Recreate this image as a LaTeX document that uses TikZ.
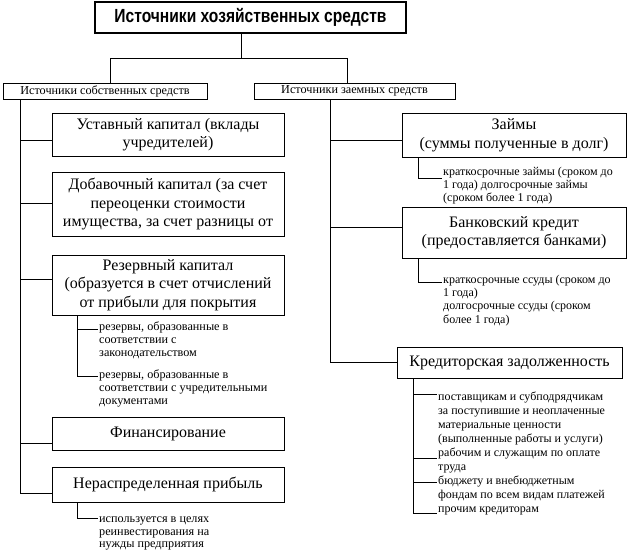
\documentclass[tikz,border=0pt]{standalone}
\usepackage{fontspec}
\setmainfont{Liberation Serif}
\newfontfamily\titlefont{Liberation Sans}
\begin{document}
\begin{tikzpicture}[x=1pt,y=-1pt,
  conn/.style={line width=1pt},
  titlebox/.style={draw, line width=1.3pt, inner sep=0pt, align=center, font=\titlefont\bfseries\fontsize{19}{22}\selectfont},
  lvl/.style={draw, line width=1pt, inner sep=0pt, align=center, font=\fontsize{12.2}{15}\selectfont},
  box/.style={draw, line width=1pt, inner sep=0pt, align=center, font=\fontsize{16}{18.5}\selectfont},
  smallL/.style={anchor=north west, inner sep=0pt, align=left, font=\fontsize{12.2}{12.7}\selectfont},
  smallZ/.style={anchor=north west, inner sep=0pt, align=left, font=\fontsize{12}{13.2}\selectfont},
  smallK/.style={anchor=north west, inner sep=0pt, align=left, font=\fontsize{12}{14}\selectfont}]
\useasboundingbox (0,0) rectangle (631,558);
% top
\node[titlebox, minimum width=311, minimum height=31] (title) at (250.5,17.5) {\scalebox{0.82}[1]{Источники хозяйственных средств}};
\node[lvl, minimum width=204, minimum height=16] (own) at (105,91) {Источники собственных средств};
\node[lvl, minimum width=201, minimum height=16] (brw) at (354.5,91) {Источники заемных средств};
\coordinate (tj) at (241,58);
\coordinate (tl) at (110,58);
\coordinate (tr) at (347,58);
\draw[conn] (title.south -| tj) -- (tj);
\draw[conn] (own.north -| tl) -- (tl) -- (tr) -- (brw.north -| tr);
% left boxes
\node[box, minimum width=232, minimum height=43] (ust) at (168,134.5) {Уставный капитал (вклады\\учредителей)};
\node[box, minimum width=232, minimum height=64] (dob) at (168,204) {Добавочный капитал (за счет\\переоценки стоимости\\имущества, за счет разницы от};
\node[box, minimum width=232, minimum height=60] (rez) at (168,285) {Резервный капитал\\(образуется в счет отчислений\\от прибыли для покрытия};
\node[box, minimum width=232, minimum height=33] (fin) at (168,433.5) {Финансирование};
\node[box, minimum width=232, minimum height=35] (ner) at (168,484.5) {Нераспределенная прибыль};
% left spine
\coordinate (l1) at (20.7,140);
\coordinate (l2) at (20.7,203);
\coordinate (l3) at (20.7,279);
\coordinate (l4) at (20.7,443);
\coordinate (l5) at (20.7,493);
\draw[conn] (own.south -| l5) -- (l5) -- (l5 -| ner.west);
\draw[conn] (l1) -- (l1 -| ust.west);
\draw[conn] (l2) -- (l2 -| dob.west);
\draw[conn] (l3) -- (l3 -| rez.west);
\draw[conn] (l4) -- (l4 -| fin.west);
% rez sub
\coordinate (rs1) at (77,329);
\coordinate (rs2) at (77,376);
\coordinate (re1) at (98,329);
\coordinate (re2) at (98,376);
\draw[conn] (rez.south -| rs1) -- (rs2) -- (re2);
\draw[conn] (rs1) -- (re1);
\node[smallL] (r1) at (99,322) {резервы, образованные в\\соответствии с\\законодательством};
\node[smallL] (r2) at (99,370) {резервы, образованные в\\соответствии с учредительными\\документами};
% ner sub
\coordinate (ns) at (77,518);
\coordinate (ne) at (98,518);
\draw[conn] (ner.south -| ns) -- (ns) -- (ne);
\node[smallL] (n1) at (99,516.5) {используется в целях\\реинвестирования на\\нужды предприятия};
% right boxes
\node[box, minimum width=224, minimum height=44] (zaim) at (514,135) {Займы\\(суммы полученные в долг)};
\node[box, minimum width=224, minimum height=51] (bank) at (514,232.5) {Банковский кредит\\(предоставляется банками)};
\node[box, minimum width=225, minimum height=31] (kred) at (509.5,362.5) {Кредиторская задолженность};
% right spine
\coordinate (q1) at (330.7,140);
\coordinate (q2) at (330.7,227);
\coordinate (q3) at (330.7,362);
\draw[conn] (brw.south -| q3) -- (q3) -- (q3 -| kred.west);
\draw[conn] (q1) -- (q1 -| zaim.west);
\draw[conn] (q2) -- (q2 -| bank.west);
% zaim sub
\coordinate (zs) at (418,178);
\coordinate (ze) at (442,178);
\draw[conn] (zaim.south -| zs) -- (zs) -- (ze);
\node[smallZ] (z1) at (443,167) {краткосрочные займы (сроком до\\1 года) долгосрочные займы\\(сроком более 1 года)};
% bank sub
\coordinate (bs) at (418,282);
\coordinate (be) at (442,282);
\draw[conn] (bank.south -| bs) -- (bs) -- (be);
\node[smallZ] (b1) at (443,275) {краткосрочные ссуды (сроком до\\1 года)\\долгосрочные ссуды (сроком\\более 1 года)};
% kred sub
\coordinate (k1) at (413,394);
\coordinate (k2) at (413,458);
\coordinate (k3) at (413,482);
\coordinate (k4) at (413,513);
\coordinate (e1) at (437,394);
\coordinate (e2) at (437,458);
\coordinate (e3) at (437,482);
\coordinate (e4) at (437,513);
\draw[conn] (kred.south -| k4) -- (k4) -- (e4);
\draw[conn] (k1) -- (e1);
\draw[conn] (k2) -- (e2);
\draw[conn] (k3) -- (e3);
\node[smallK] (kt) at (438,391.5) {поставщикам и субподрядчикам\\за поступившие и неоплаченные\\материальные ценности\\(выполненные работы и услуги)\\рабочим и служащим по оплате\\труда\\бюджету и внебюджетным\\фондам по всем видам платежей\\прочим кредиторам};
\end{tikzpicture}
\end{document}
